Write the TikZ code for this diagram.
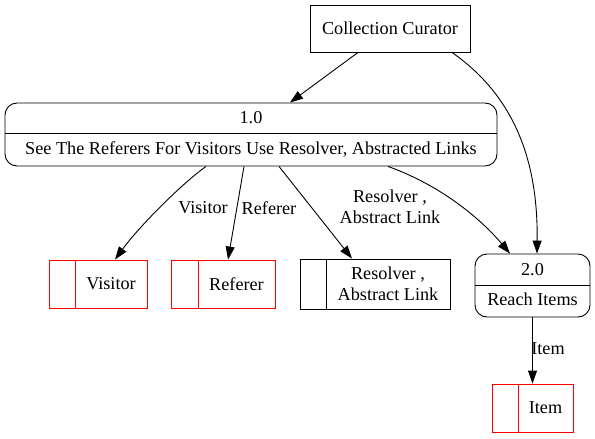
\documentclass[tikz,border=0pt]{standalone}
\usepackage{fontspec}
\setmainfont{Liberation Serif}
\newfontfamily\dfdfont{Liberation Serif}
\usetikzlibrary{arrows.meta,calc}
\definecolor{storered}{HTML}{FF0000}
\begin{document}
\begin{tikzpicture}[x=1pt,y=-1pt,
  every node/.style={font=\dfdfont\fontsize{18.2}{21}\selectfont, inner sep=0pt},
  line width=0.9pt,
  ext/.style={draw, rectangle, minimum width=160pt, minimum height=47pt},
  procbox/.style={draw, rectangle, rounded corners=12pt},
  storebox/.style={draw, rectangle},
  arr/.style={-{Triangle[length=13pt,width=9pt]}},
  lbl/.style={align=center}
]
\useasboundingbox (0,0) rectangle (595,439);

% external entity
\node[ext] (cur) at (390,28.5) {Collection Curator};

% process 1.0
\node[procbox, minimum width=492pt, minimum height=63pt] (p1) at (251,134.5) {};
\draw (5,133) -- (497,133);
\node (p1a) at (251,118) {1.0};
\node (p1b) at (251,149) {See The Referers For Visitors Use Resolver, Abstracted Links};

% process 2.0
\node[procbox, minimum width=115pt, minimum height=63pt] (p2) at (532.5,285.5) {};
\draw (475,285) -- (590,285);
\node (p2a) at (532.5,270) {2.0};
\node (p2b) at (532.5,299) {Reach Items};

% stores
\node[storebox, draw=storered, minimum width=98pt, minimum height=48pt] (sv) at (98,284) {};
\draw[storered] (75,260) -- (75,308);
\node (svt) at (111,284) {Visitor};

\node[storebox, draw=storered, minimum width=104pt, minimum height=48pt] (sr) at (223,284) {};
\draw[storered] (198,260) -- (198,308);
\node (srt) at (236.5,284) {Referer};

\node[storebox, minimum width=150pt, minimum height=50pt] (sa) at (375,284) {};
\draw (326,259) -- (326,309);
\node[lbl] (sat) at (388,284) {Resolver ,\\Abstract Link};

\node[storebox, draw=storered, minimum width=81pt, minimum height=48pt] (si) at (532.5,408) {};
\draw[storered] (518,384) -- (518,432);
\node (sit) at (545.5,408) {Item};

% connectors
\draw[arr] ($(cur.south)+(-32,0)$) -- ($(p1.north)+(39,0)$);
\draw[arr] ($(cur.south)+(62,0)$) .. controls (520,100) and (538,170) .. ($(p2.north)+(4.5,0)$);
\draw[arr] ($(p1.south)+(-45,0)$) .. controls (180,185) and (138,228) .. ($(sv.north)+(17,0)$);
\draw[arr] ($(p1.south)+(-7,0)$) -- ($(sr.north)+(5,0)$);
\draw[arr] ($(p1.south)+(28,0)$) -- ($(sa.north)+(-23,0)$);
\draw[arr] ($(p1.south)+(137,0)$) .. controls (440,185) and (480,218) .. ($(p2.north)+(-22.5,0)$);
\draw[arr] (p2.south) -- (si.north);

% edge labels
\node (lv) at (203,208) {Visitor};
\node (lr) at (269,208) {Referer};
\node[lbl] (la) at (390,207) {Resolver ,\\Abstract Link};
\node (li) at (548,349) {Item};
\end{tikzpicture}
\end{document}
